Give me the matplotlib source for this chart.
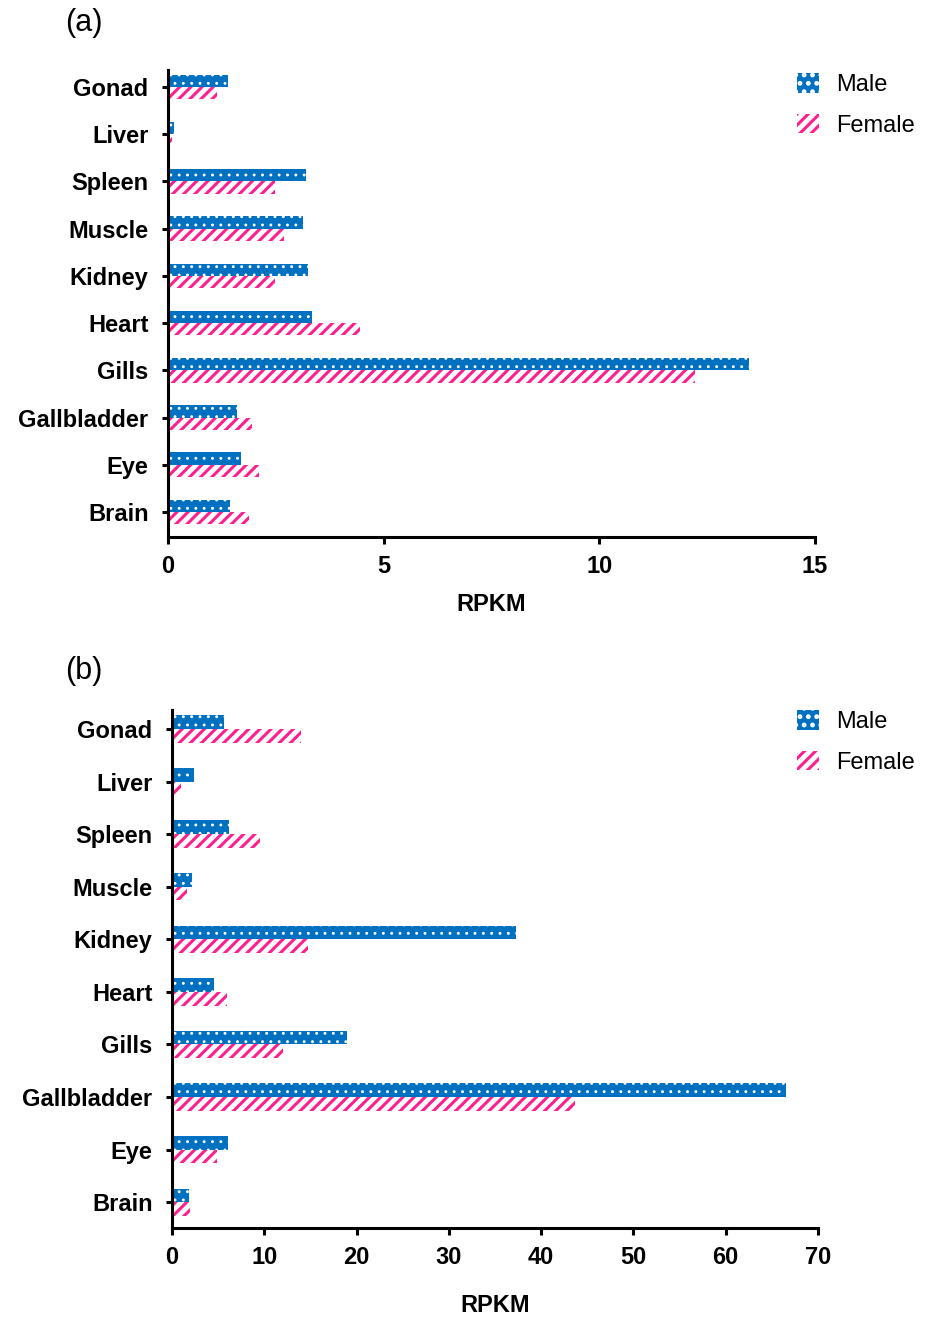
import matplotlib.pyplot as plt
import numpy as np
from matplotlib.patches import Patch

plt.rcParams['font.family'] = ['Liberation Sans', 'DejaVu Sans']

# tissues, listed from top to bottom as in the figure
tissues = ['Gonad', 'Liver', 'Spleen', 'Muscle', 'Kidney',
           'Heart', 'Gills', 'Gallbladder', 'Eye', 'Brain']

# panel (a)
male_a = [1.40, 0.15, 3.21, 3.12, 3.25, 3.35, 13.47, 1.59, 1.69, 1.44]
female_a = [1.13, 0.10, 2.47, 2.69, 2.47, 4.45, 12.22, 1.94, 2.10, 1.87]

# panel (b)
male_b = [5.67, 2.38, 6.2, 2.2, 37.3, 4.6, 19.0, 66.5, 6.1, 1.88]
female_b = [13.95, 0.94, 9.57, 1.66, 14.7, 6.0, 12.0, 43.7, 4.9, 1.95]

BLUE = '#0070C0'
PINK = '#FF1F8E'

fig = plt.figure(figsize=(9.26, 13.18), dpi=100)

panels = [
    dict(rect=[168 / 926, 1 - 537 / 1318, (815 - 168) / 926, (537 - 70) / 1318],
         male=male_a, female=female_a, xmax=15, xticks=[0, 5, 10, 15],
         ylim=(-0.53, 9.36), tag='(a)', tag_y=1 - 23 / 1318, leg_y=1 - 73 / 1318,
         labelpad=11),
    dict(rect=[172 / 926, 1 - 1228 / 1318, (818 - 172) / 926, (1228 - 710) / 1318],
         male=male_b, female=female_b, xmax=70, xticks=np.arange(0, 71, 10),
         ylim=(-0.49, 9.36), tag='(b)', tag_y=1 - 671 / 1318, leg_y=1 - 710 / 1318,
         labelpad=18),
]

h = 0.26
for p in panels:
    ax = fig.add_axes(p['rect'])
    y = np.arange(len(tissues))[::-1]

    plt.rcParams['hatch.linewidth'] = 0.9
    ax.barh(y + h / 2, p['male'], height=h, color=BLUE, edgecolor='white',
            hatch='..', linewidth=0)
    plt.rcParams['hatch.linewidth'] = 2.2
    ax.barh(y - h / 2, p['female'], height=h, color='white', edgecolor=PINK,
            hatch='///', linewidth=0)

    ax.set_xlim(0, p['xmax'])
    ax.set_ylim(*p['ylim'])
    ax.set_yticks(y)
    ax.set_yticklabels(tissues, fontsize=17, fontweight='bold')
    ax.set_xticks(p['xticks'])
    ax.set_xticklabels([str(v) for v in p['xticks']], fontsize=17, fontweight='bold')
    ax.set_xlabel('RPKM', fontsize=17, fontweight='bold', labelpad=p['labelpad'])

    for s in ['top', 'right']:
        ax.spines[s].set_visible(False)
    for s in ['left', 'bottom']:
        ax.spines[s].set_linewidth(2.2)
    ax.tick_params(axis='y', length=4, width=2.2, pad=10)
    ax.tick_params(axis='x', length=5, width=2.2, pad=8)

    fig.text(84 / 926, p['tag_y'], p['tag'], fontsize=22, ha='center', va='center')

    plt.rcParams['hatch.linewidth'] = 0.9
    h_male = Patch(facecolor=BLUE, edgecolor='white', hatch='..', linewidth=0)
    plt.rcParams['hatch.linewidth'] = 2.2
    h_female = Patch(facecolor='white', edgecolor=PINK, hatch='///', linewidth=0)
    fig.legend([h_male, h_female], ['Male', 'Female'], loc='upper left',
               bbox_to_anchor=(797 / 926, p['leg_y']), frameon=False,
               fontsize=17, handlelength=0.95, handleheight=0.9,
               handletextpad=0.7, labelspacing=0.75, borderpad=0, borderaxespad=0)

fig.savefig('out.png', dpi=100)
